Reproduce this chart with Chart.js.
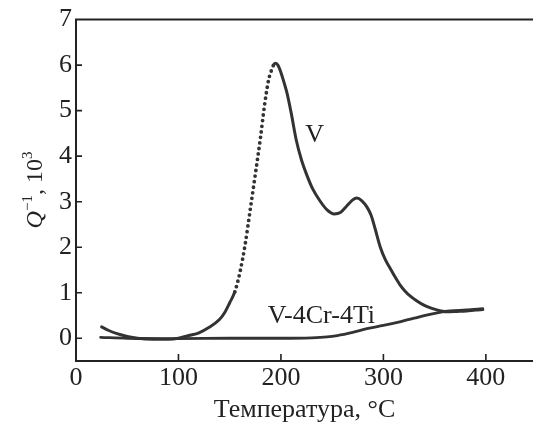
<!DOCTYPE html>
<html>
<head>
<meta charset="utf-8">
<script src="https://cdn.jsdelivr.net/npm/chart.js@4.4.1/dist/chart.umd.min.js"></script>
<style>
  html, body { margin: 0; padding: 0; background: #ffffff; }
  #wrap { width: 533px; height: 425px; position: relative; }
</style>
</head>
<body>
<div id="wrap"><canvas id="c" width="533" height="425"></canvas></div>
<script>
// ---- data ----
const V_T = [25, 32, 40, 50, 60, 75, 90, 100, 110, 120, 130, 140, 145, 150, 155, 160, 165, 170, 175, 180, 184, 188, 191, 193, 195, 197, 200, 203, 206, 210, 215, 220, 225, 231, 238, 245, 252, 258, 264, 270, 274, 279, 284, 288, 292, 297, 302, 306, 311, 316, 321, 326, 332, 340, 348, 356, 362, 372, 381, 390, 397];
const V_Q = [0.25, 0.17, 0.10, 0.04, 0.00, -0.02, -0.02, 0.00, 0.06, 0.12, 0.24, 0.41, 0.56, 0.78, 1.02, 1.45, 2.05, 2.82, 3.60, 4.40, 5.12, 5.68, 5.90, 6.01, 6.04, 6.00, 5.84, 5.62, 5.38, 4.95, 4.35, 3.92, 3.60, 3.28, 3.02, 2.82, 2.73, 2.76, 2.90, 3.04, 3.08, 3.02, 2.88, 2.70, 2.40, 2.00, 1.72, 1.56, 1.36, 1.18, 1.04, 0.93, 0.83, 0.72, 0.65, 0.60, 0.58, 0.59, 0.60, 0.62, 0.63];

const VCR_T = [24, 50, 100, 150, 200, 230, 245, 255, 270, 284, 300, 316, 330, 342, 355, 365, 381, 397];
const VCR_Q = [0.02, 0.00, -0.01, 0.00, 0.00, 0.01, 0.03, 0.06, 0.13, 0.21, 0.28, 0.36, 0.44, 0.51, 0.57, 0.60, 0.62, 0.65];

const X_TICKS = [0, 100, 200, 300, 400];
const Y_TICKS = [0, 1, 2, 3, 4, 5, 6, 7];
const X_RANGE = [0, 446];
const Y_RANGE = [-0.5, 7];

const SERIES_LABELS = ['V', 'V-4Cr-4Ti'];
const X_TITLE = 'Температура, °C';

// ---- styling ----
const INK = '#222222';
const LINE = '#333333';
const FONT = '"Liberation Serif", "Times New Roman", serif';
const DOTTED_SPAN = [155, 194]; // rising part drawn as dotted marks

const toXY = (xs, ys) => xs.map((x, i) => ({ x: x, y: ys[i] }));
const inDotted = c => c.p0.parsed.x >= DOTTED_SPAN[0] && c.p1.parsed.x <= DOTTED_SPAN[1];

const decor = {
  id: 'decor',
  afterDraw(chart) {
    const { ctx, chartArea: a, scales: { x, y } } = chart;
    ctx.save();
    // top frame line
    ctx.strokeStyle = INK;
    ctx.lineWidth = 2;
    ctx.beginPath();
    ctx.moveTo(a.left - 1, a.top);
    ctx.lineTo(a.right, a.top);
    ctx.stroke();
    // inward tick marks
    ctx.lineWidth = 1.6;
    ctx.beginPath();
    x.ticks.forEach(t => {
      if (t.value === 0) return;
      const px = x.getPixelForValue(t.value);
      ctx.moveTo(px, a.bottom);
      ctx.lineTo(px, a.bottom - 7);
    });
    y.ticks.forEach(t => {
      if (t.value === Y_RANGE[1]) return;
      const py = y.getPixelForValue(t.value);
      ctx.moveTo(a.left, py);
      ctx.lineTo(a.left + 6, py);
    });
    ctx.stroke();

    // curve labels
    ctx.fillStyle = INK;
    ctx.font = '26px ' + FONT;
    ctx.textAlign = 'center';
    ctx.textBaseline = 'middle';
    ctx.fillText(SERIES_LABELS[0], x.getPixelForValue(233), y.getPixelForValue(4.46));
    ctx.fillText(SERIES_LABELS[1], x.getPixelForValue(239.5), y.getPixelForValue(0.48));

    // y axis title: Q^-1, 10^3 (rotated)
    ctx.translate(42, 190);
    ctx.rotate(-Math.PI / 2);
    ctx.textAlign = 'left';
    ctx.textBaseline = 'alphabetic';
    const main = '24px ' + FONT;
    const ital = 'italic 24px ' + FONT;
    const sup = '15px ' + FONT;
    const parts = [
      { t: 'Q', f: ital, dy: 0 },
      { t: '\u22121', f: sup, dy: -10 },
      { t: ', 10', f: main, dy: 0 },
      { t: '3', f: sup, dy: -10 }
    ];
    let total = 0;
    parts.forEach(p => { ctx.font = p.f; p.w = ctx.measureText(p.t).width; total += p.w; });
    let cx = -total / 2;
    parts.forEach(p => {
      ctx.font = p.f;
      ctx.fillText(p.t, cx, p.dy);
      cx += p.w;
    });
    ctx.restore();
  }
};

new Chart(document.getElementById('c'), {
  type: 'line',
  data: {
    datasets: [
      {
        label: SERIES_LABELS[0],
        data: toXY(V_T, V_Q),
        borderColor: LINE,
        borderWidth: 3,
        borderCapStyle: 'round',
        borderJoinStyle: 'round',
        pointRadius: 0,
        fill: false,
        cubicInterpolationMode: 'monotone',
        segment: {
          borderDash: c => inDotted(c) ? [0, 5.6] : undefined,
          borderWidth: c => inDotted(c) ? 3.8 : undefined
        }
      },
      {
        label: SERIES_LABELS[1],
        data: toXY(VCR_T, VCR_Q),
        borderColor: LINE,
        borderWidth: 2.8,
        borderCapStyle: 'round',
        pointRadius: 0,
        fill: false,
        cubicInterpolationMode: 'monotone'
      }
    ]
  },
  options: {
    responsive: false,
    animation: false,
    devicePixelRatio: 1,
    layout: { padding: { top: 18, right: 0, left: 0, bottom: 0 } },
    plugins: { legend: { display: false }, tooltip: { enabled: false } },
    scales: {
      x: {
        type: 'linear',
        min: X_RANGE[0],
        max: X_RANGE[1],
        afterBuildTicks: s => { s.ticks = X_TICKS.map(v => ({ value: v })); },
        afterFit: s => { s.height = 64; },
        grid: { display: false, drawTicks: false },
        border: { display: true, color: INK, width: 2 },
        ticks: { color: INK, padding: 2, maxRotation: 0, font: { family: FONT, size: 26 } },
        title: { display: true, text: X_TITLE, color: INK, padding: { top: 0, bottom: 0 }, font: { family: FONT, size: 26, lineHeight: 1.15 } }
      },
      y: {
        type: 'linear',
        min: Y_RANGE[0],
        max: Y_RANGE[1],
        afterBuildTicks: s => { s.ticks = Y_TICKS.map(v => ({ value: v })); },
        afterFit: s => { s.width = 76; },
        grid: { display: false, drawTicks: false },
        border: { display: true, color: INK, width: 2 },
        ticks: { color: INK, padding: 4, font: { family: FONT, size: 26 } }
      }
    }
  },
  plugins: [decor]
});
</script>
</body>
</html>
